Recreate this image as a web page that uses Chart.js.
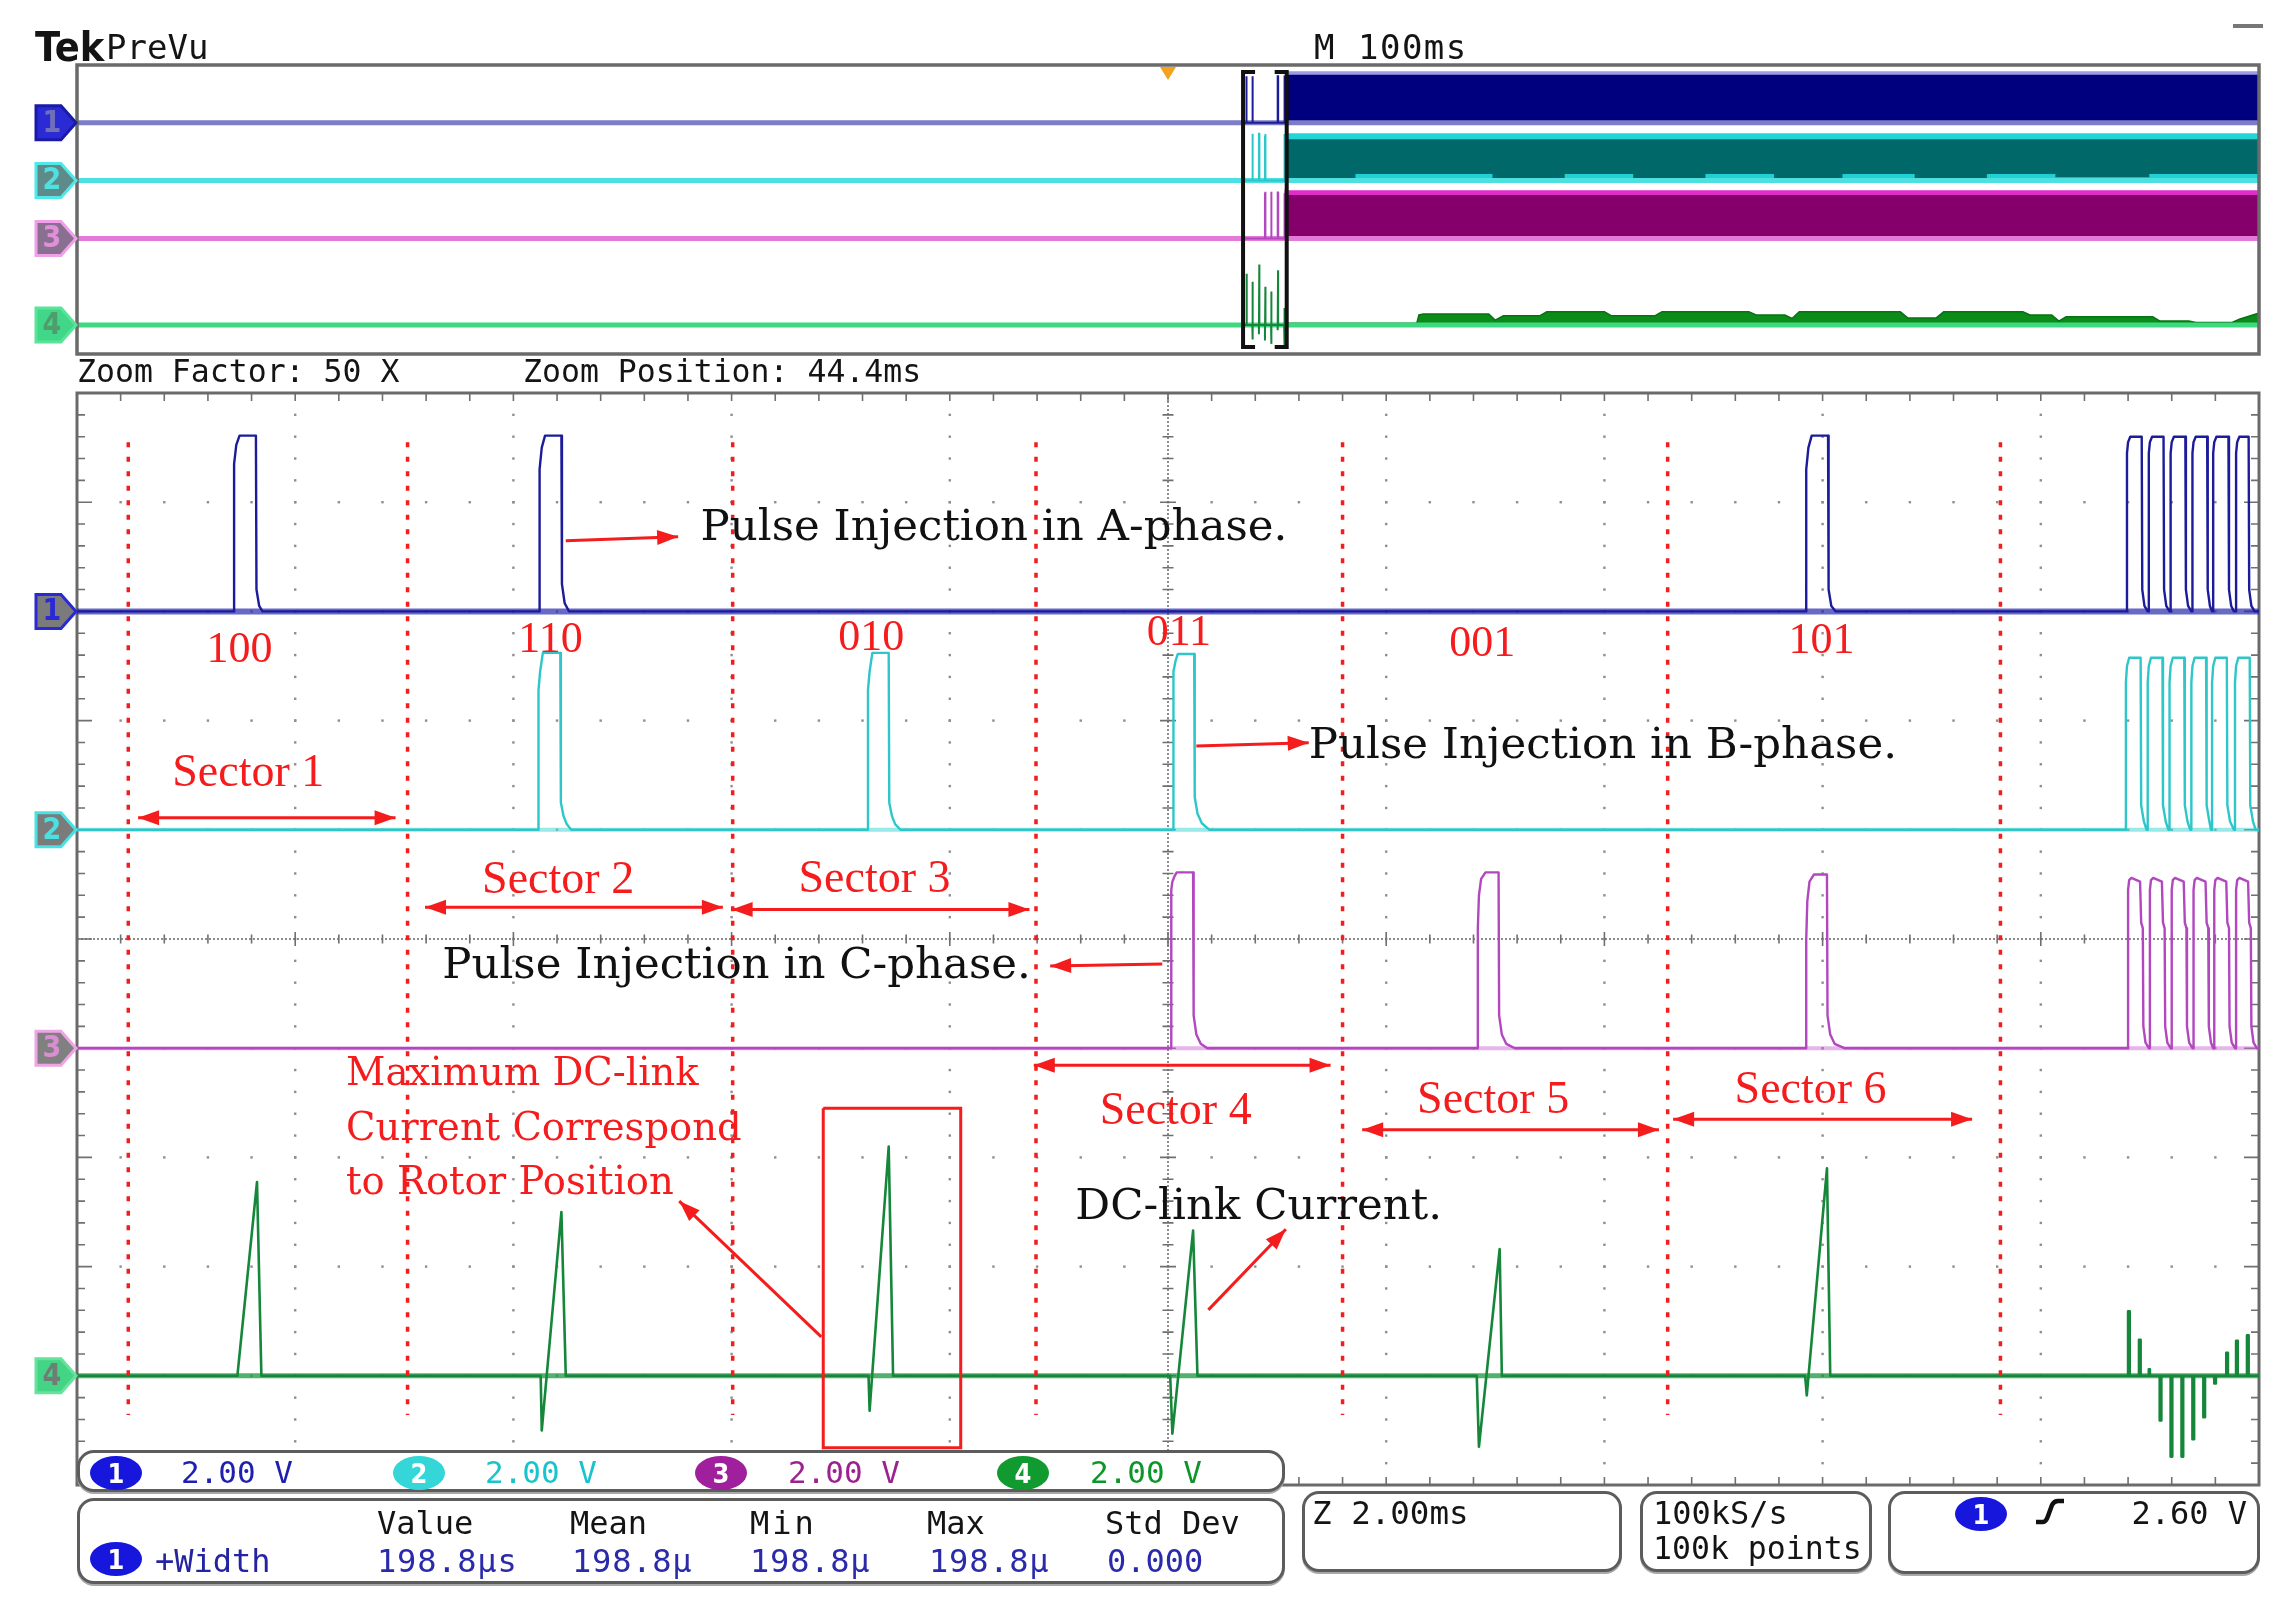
<!DOCTYPE html>
<html>
<head>
<meta charset="utf-8">
<title>Tek PreVu - pulse injection</title>
<script src="https://cdn.jsdelivr.net/npm/chart.js@4.4.1/dist/chart.umd.min.js"></script>
<style>
  html, body { margin: 0; padding: 0; background: #fff; }
  #page { position: relative; width: 2281px; height: 1609px; overflow: hidden; background: #fff;
          font-family: "DejaVu Sans Mono", monospace; color: #141414; }
  canvas { position: absolute; left: 0; }
  .t { position: absolute; white-space: nowrap; line-height: 1; }
  .box { position: absolute; box-sizing: border-box; border: 3px solid #5c5c5c; border-radius: 17px;
         background: #fff; box-shadow: 0 2px 0 #a8a8a8; }
  .num { position: absolute; width: 52px; height: 34px; border-radius: 50%; color: #fff;
         font-family: "DejaVu Sans Condensed", "DejaVu Sans", sans-serif; font-stretch: condensed;
         font-size: 27px; font-weight: bold; line-height: 35px; text-align: center; }
</style>
</head>
<body>
<div id="page">
  <canvas id="prev" width="2281" height="370" style="top:0"></canvas>
  <canvas id="main" width="2281" height="1249" style="top:360px"></canvas>

  <div class="t" style="left:35px;top:27px;font-size:41px;font-weight:bold;font-family:'DejaVu Sans Condensed','DejaVu Sans',sans-serif;font-stretch:condensed;">Tek</div>
  <div class="t" style="left:106px;top:30px;font-size:34px;">PreVu</div>
  <div class="t" style="left:1314px;top:30px;font-size:34px;letter-spacing:1.5px;">M 100ms</div>
  <div style="position:absolute;left:2233px;top:24px;width:30px;height:4px;background:#777;"></div>
  <div class="t" style="left:77px;top:356px;font-size:31.5px;">Zoom Factor: 50 X</div>
  <div class="t" style="left:523px;top:356px;font-size:31.5px;">Zoom Position: 44.4ms</div>

  <!-- channel scale readouts -->
  <div class="box" style="left:77px;top:1450px;width:1208px;height:42px;"></div>
  <div class="num" style="left:90px;top:1456px;background:#1616dc;">1</div>
  <div class="t" style="left:181px;top:1457px;font-size:31px;color:#2020b0;">2.00 V</div>
  <div class="num" style="left:393px;top:1456px;background:#34d6d8;">2</div>
  <div class="t" style="left:485px;top:1457px;font-size:31px;color:#18c4cc;">2.00 V</div>
  <div class="num" style="left:695px;top:1456px;background:#a01f9c;">3</div>
  <div class="t" style="left:788px;top:1457px;font-size:31px;color:#9c2290;">2.00 V</div>
  <div class="num" style="left:997px;top:1456px;background:#109a30;">4</div>
  <div class="t" style="left:1090px;top:1457px;font-size:31px;color:#0c962a;">2.00 V</div>

  <!-- measurement table -->
  <div class="box" style="left:77px;top:1498px;width:1208px;height:86px;"></div>
  <div class="t" style="left:377px;top:1507px;font-size:32px;">Value</div>
  <div class="t" style="left:570px;top:1507px;font-size:32px;">Mean</div>
  <div class="t" style="left:750px;top:1507px;font-size:32px;letter-spacing:3px;">Min</div>
  <div class="t" style="left:927px;top:1507px;font-size:32px;">Max</div>
  <div class="t" style="left:1105px;top:1507px;font-size:32px;">Std Dev</div>
  <div class="num" style="left:90px;top:1542px;background:#1616dc;">1</div>
  <div class="t" style="left:155px;top:1545px;font-size:32px;color:#2424a0;">+Width</div>
  <div class="t" style="left:377px;top:1545px;font-size:32px;letter-spacing:0.8px;color:#2a2aaa;">198.8µs</div>
  <div class="t" style="left:572px;top:1545px;font-size:32px;letter-spacing:0.8px;color:#2a2aaa;">198.8µ</div>
  <div class="t" style="left:750px;top:1545px;font-size:32px;letter-spacing:0.8px;color:#2a2aaa;">198.8µ</div>
  <div class="t" style="left:929px;top:1545px;font-size:32px;letter-spacing:0.8px;color:#2a2aaa;">198.8µ</div>
  <div class="t" style="left:1107px;top:1545px;font-size:32px;color:#2a2aaa;">0.000</div>

  <!-- timebase / acquisition / trigger -->
  <div class="box" style="left:1302px;top:1491px;width:320px;height:81px;"></div>
  <div class="t" style="left:1312px;top:1497px;font-size:32.5px;">Z 2.00ms</div>
  <div class="box" style="left:1640px;top:1491px;width:232px;height:81px;"></div>
  <div class="t" style="left:1653px;top:1497px;font-size:32px;">100kS/s</div>
  <div class="t" style="left:1653px;top:1533px;font-size:31.5px;">100k points</div>
  <div class="box" style="left:1888px;top:1491px;width:372px;height:83px;"></div>
  <div class="num" style="left:1955px;top:1497px;background:#1616dc;">1</div>
  <svg style="position:absolute;left:2034px;top:1498px" width="32" height="28">
    <path d="M2 24 L9 24 Q12 24 14 18 L18 7 Q20 3 24 3 L30 3" stroke="#111" stroke-width="4.5" fill="none" stroke-linejoin="round"/>
  </svg>
  <div class="t" style="right:34px;top:1497px;font-size:32px;">2.60 V</div>
</div>

<script>
// ── acquisition settings ──
const zoomPosition = 44.4;          // ms, centre of the zoom window
const zoomSpan = 20;                // 10 div x 2.00 ms
const zoomStart = zoomPosition - zoomSpan / 2;
const voltsPerDiv = 2;
const chOffset = [3, 1, -1, -4];    // ground markers, div from centre

// ── traces in the zoom window: [ms from window start, volts] ──
const ch1Trace = [
  [0,0],
  [1.44,0],[1.44,2.7],[1.46,3.05],[1.49,3.22],[1.64,3.22],[1.645,0.4],[1.67,0.1],[1.70,0],
  [4.24,0],[4.24,2.6],[4.26,3.0],[4.29,3.22],[4.44,3.22],[4.445,0.5],[4.47,0.15],[4.51,0],
  [15.85,0],[15.85,2.6],[15.87,3.0],[15.90,3.22],[16.05,3.22],[16.055,0.4],[16.08,0.1],[16.12,0],
  [18.79,0],[18.79,2.9],[18.80,3.1],[18.82,3.2],[18.925,3.2],[18.93,0.4],[18.95,0.1],[18.98,0],
  [18.99,0],[18.99,2.9],[19.00,3.1],[19.02,3.2],[19.125,3.2],[19.13,0.4],[19.15,0.1],[19.18,0],
  [19.19,0],[19.19,2.9],[19.20,3.1],[19.22,3.2],[19.325,3.2],[19.33,0.4],[19.35,0.1],[19.38,0],
  [19.39,0],[19.39,2.9],[19.40,3.1],[19.42,3.2],[19.525,3.2],[19.53,0.4],[19.55,0.1],[19.57,0],
  [19.58,0],[19.58,2.9],[19.59,3.1],[19.61,3.2],[19.72,3.2],[19.725,0.4],[19.745,0.1],[19.77,0],
  [19.79,0],[19.79,2.9],[19.80,3.1],[19.82,3.2],[19.905,3.2],[19.91,0.4],[19.93,0.1],[19.96,0],[20,0]
];
const ch2Trace = [
  [0,0],
  [4.23,0],[4.23,2.56],[4.245,2.9],[4.27,3.24],[4.43,3.24],[4.435,0.5],[4.46,0.25],[4.49,0.1],[4.53,0],
  [7.25,0],[7.25,2.56],[7.265,2.9],[7.29,3.24],[7.44,3.24],[7.445,0.5],[7.47,0.25],[7.50,0.1],[7.55,0],
  [10.05,0],[10.05,2.9],[10.07,3.1],[10.09,3.22],[10.24,3.22],[10.245,0.6],[10.27,0.3],[10.31,0.12],[10.38,0],
  [18.78,0],[18.78,2.7],[18.79,3.0],[18.81,3.15],[18.915,3.15],[18.92,0.45],[18.945,0.15],[18.97,0],
  [18.98,0],[18.98,2.7],[18.99,3.0],[19.01,3.15],[19.115,3.15],[19.12,0.45],[19.145,0.15],[19.17,0],
  [19.18,0],[19.18,2.7],[19.19,3.0],[19.21,3.15],[19.315,3.15],[19.32,0.45],[19.345,0.15],[19.37,0],
  [19.38,0],[19.38,2.7],[19.39,3.0],[19.41,3.15],[19.515,3.15],[19.52,0.45],[19.545,0.15],[19.56,0],
  [19.57,0],[19.57,2.7],[19.58,3.0],[19.60,3.15],[19.705,3.15],[19.71,0.45],[19.735,0.15],[19.77,0],
  [19.78,0],[19.78,2.7],[19.79,3.0],[19.81,3.15],[19.915,3.15],[19.92,0.45],[19.945,0.15],[19.97,0],[20,0]
];
const ch3Trace = [
  [0,0],
  [10.03,0],[10.03,2.9],[10.04,3.05],[10.06,3.15],[10.08,3.22],[10.23,3.22],[10.235,0.6],[10.26,0.25],[10.30,0.08],[10.36,0],
  [12.84,0],[12.84,2.2],[12.85,2.8],[12.87,3.1],[12.91,3.22],[13.03,3.22],[13.035,0.6],[13.06,0.25],[13.10,0.08],[13.18,0],
  [15.85,0],[15.85,2.0],[15.86,2.7],[15.88,3.05],[15.92,3.18],[16.04,3.18],[16.045,0.6],[16.07,0.25],[16.11,0.08],[16.20,0],
  [18.80,0],[18.80,2.9],[18.81,3.08],[18.83,3.12],[18.91,3.05],[18.92,2.3],[18.935,2.2],[18.94,0.4],[18.96,0.1],[18.99,0],
  [19.00,0],[19.00,2.9],[19.01,3.08],[19.03,3.12],[19.11,3.05],[19.12,2.3],[19.135,2.2],[19.14,0.4],[19.16,0.1],[19.19,0],
  [19.20,0],[19.20,2.9],[19.21,3.08],[19.23,3.12],[19.31,3.05],[19.32,2.3],[19.335,2.2],[19.34,0.4],[19.36,0.1],[19.39,0],
  [19.40,0],[19.40,2.9],[19.41,3.08],[19.43,3.12],[19.51,3.05],[19.52,2.3],[19.535,2.2],[19.54,0.4],[19.56,0.1],[19.58,0],
  [19.59,0],[19.59,2.9],[19.60,3.08],[19.62,3.12],[19.70,3.05],[19.71,2.3],[19.725,2.2],[19.73,0.4],[19.75,0.1],[19.78,0],
  [19.79,0],[19.79,2.9],[19.80,3.08],[19.82,3.12],[19.90,3.05],[19.91,2.3],[19.925,2.2],[19.93,0.4],[19.95,0.1],[19.98,0],[20,0]
];
const ch4Trace = [
  [0,0],
  [1.47,0],[1.65,3.55],[1.69,0],
  [4.25,0],[4.26,-1.0],[4.44,3.0],[4.48,0],
  [7.255,0],[7.265,-0.64],[7.44,4.2],[7.48,0],
  [10.02,0],[10.04,-1.06],[10.23,2.66],[10.27,0],
  [12.83,0],[12.85,-1.3],[13.04,2.32],[13.06,0],
  [15.84,0],[15.855,-0.36],[16.04,3.8],[16.07,0],
  [18.80,0],[18.80,1.18],[18.815,1.18],[18.815,0],
  [18.90,0],[18.90,0.66],[18.915,0.66],[18.915,0],
  [18.99,0],[18.99,0.12],[19.00,0.12],[19.00,0],
  [19.09,0],[19.09,-0.82],[19.105,-0.82],[19.105,0],
  [19.19,0],[19.19,-1.48],[19.205,-1.48],[19.205,0],
  [19.29,0],[19.29,-1.48],[19.305,-1.48],[19.305,0],
  [19.39,0],[19.39,-1.16],[19.405,-1.16],[19.405,0],
  [19.49,0],[19.49,-0.76],[19.505,-0.76],[19.505,0],
  [19.59,0],[19.59,-0.14],[19.605,-0.14],[19.605,0],
  [19.70,0],[19.70,0.42],[19.715,0.42],[19.715,0],
  [19.79,0],[19.79,0.64],[19.805,0.64],[19.805,0],
  [19.89,0],[19.89,0.74],[19.905,0.74],[19.905,0],
  [20,0]
];

// ── PreVu record after the zoom window (ms after trigger, volts) ──
const prevBandOuter = [3.56, 3.28, 3.34];      // ch1..ch3 envelope top
const prevBandCore = [3.32, 2.86, 3.0];        // dense core top
const prevCh2Strip = [
  [54.4,0.46],[85.9,0.18],[148.7,0.46],[181.8,0.18],[213.2,0.46],[246.3,0.18],[277.7,0.46],
  [309.1,0.18],[342.2,0.46],[375.3,0.18],[406.7,0.46],[449.7,0.24],[454.6,0.46],[500,0.46]
];
const prevCh4Env = [
  [54.4,0.12],[114,0.12],[115,0.70],[117,0.76],[147,0.76],[150,0.34],[153.7,0.64],[170.3,0.64],
  [173.6,0.92],[200,0.92],[203.3,0.64],[223.1,0.64],[226.4,0.92],[266.2,0.92],[269.5,0.70],
  [282.7,0.70],[286,0.46],[289.3,0.92],[335.6,0.92],[339,0.50],[352.1,0.50],[355.5,0.92],
  [391.8,0.92],[395,0.70],[405,0.70],[408.3,0.28],[411.6,0.58],[451.3,0.58],[454.6,0.28],
  [467.8,0.28],[471.1,0.18],[487.7,0.18],[491,0.40],[499.3,0.80],[500,0.80]
];

// ── annotations ──
const sectorBounds = [0.47, 3.03, 6.01, 8.79, 11.60, 14.58, 17.63];
const sectorNames = ['Sector 1', 'Sector 2', 'Sector 3', 'Sector 4', 'Sector 5', 'Sector 6'];
const sectorSpans = [[0.56, 2.92], [3.19, 5.92], [6.00, 8.73], [8.77, 11.49], [11.78, 14.50], [14.63, 17.37]];
const switchCodes = ['100', '110', '010', '011', '001', '101'];
const codeTimes = [1.49, 4.34, 7.28, 10.10, 12.88, 15.99];

// placement of the annotations, in axis units (ms, div)
const layout = {
  codeY: [2.54, 2.63, 2.65, 2.69, 2.59, 2.62],
  sectorLabelX: [1.57, 4.41, 7.31, 10.07, 12.98, 15.89],
  sectorLabelY: [1.40, 0.42, 0.43, -1.69, -1.59, -1.50],
  sectorArrowY: [1.11, 0.29, 0.27, -1.157, -1.746, -1.65],
  dotsTop: 4.55, dotsBottom: -4.36,
  box: [6.84, 8.10, -1.55, -4.66],
  captions: [
    { text: 'Pulse Injection in A-phase.', t: 5.715, y: 3.658 },
    { text: 'Pulse Injection in B-phase.', t: 11.29, y: 1.662 },
    { text: 'Pulse Injection in C-phase.', t: 3.347, y: -0.353 },
    { text: 'DC-link Current.', t: 9.15, y: -2.56 }
  ],
  maxNote: { lines: ['Maximum DC-link', 'Current Correspond', 'to Rotor Position'], t: 2.466, y: [-1.339, -1.84, -2.338] },
  pointers: [
    [4.48, 3.647, 5.51, 3.684],
    [10.26, 1.767, 11.29, 1.798],
    [9.947, -0.229, 8.92, -0.247],
    [6.822, -3.644, 5.52, -2.40],
    [10.37, -3.396, 11.08, -2.658]
  ]
};

const RED = '#f41c1c';
const traceColor = ['#1c1c9a', '#2ec6c8', '#b247bf', '#15863a'];
const haloColor = ['rgba(40,40,175,0.7)', 'rgba(70,215,215,0.55)', 'rgba(205,110,215,0.5)', 'rgba(25,150,60,0.75)'];
const markerStyle = [
  { fill: '#7b7b7b', edge: '#2a2ad4', text: '#2a2ad4' },
  { fill: '#7b7b7b', edge: '#48e2e2', text: '#48e2e2' },
  { fill: '#808080', edge: '#f0a4e6', text: '#d88ed0' },
  { fill: '#44d486', edge: '#66e29c', text: '#6e7e74' }
];
const prevMarkerStyle = [
  { fill: '#2b2bd6', edge: '#1a1aa8', text: '#7070b8' },
  { fill: '#5f8a8a', edge: '#50e8e8', text: '#50e0e0' },
  { fill: '#8a7090', edge: '#f0a0e8', text: '#e090d8' },
  { fill: '#40d888', edge: '#5ae49a', text: '#4f9c6c' }
];

const traces = [ch1Trace, ch2Trace, ch3Trace, ch4Trace];
const toPts = (trace, off, dt = 0) => trace.map(([t, v]) => ({ x: t + dt, y: off + v / voltsPerDiv }));

function arrowHead(ctx, x0, y0, x1, y1) {
  const a = Math.atan2(y1 - y0, x1 - x0), L = 21, W = 7.5;
  ctx.beginPath();
  ctx.moveTo(x1, y1);
  ctx.lineTo(x1 - L * Math.cos(a) + W * Math.sin(a), y1 - L * Math.sin(a) - W * Math.cos(a));
  ctx.lineTo(x1 - L * Math.cos(a) - W * Math.sin(a), y1 - L * Math.sin(a) + W * Math.cos(a));
  ctx.closePath();
  ctx.fill();
}
function arrow(ctx, x0, y0, x1, y1, both) {
  ctx.beginPath(); ctx.moveTo(x0, y0); ctx.lineTo(x1, y1); ctx.stroke();
  arrowHead(ctx, x0, y0, x1, y1);
  if (both) arrowHead(ctx, x1, y1, x0, y0);
}
function drawMarker(ctx, tip, yp, n, st) {
  ctx.beginPath();
  ctx.moveTo(tip - 40, yp - 17); ctx.lineTo(tip - 15, yp - 17); ctx.lineTo(tip, yp);
  ctx.lineTo(tip - 15, yp + 17); ctx.lineTo(tip - 40, yp + 17); ctx.closePath();
  ctx.fillStyle = st.fill; ctx.fill();
  ctx.lineWidth = 3; ctx.strokeStyle = st.edge; ctx.stroke();
  ctx.fillStyle = st.text;
  ctx.font = 'bold 30px "DejaVu Sans Condensed", "DejaVu Sans"';
  ctx.textAlign = 'center'; ctx.textBaseline = 'middle';
  ctx.fillText(n, tip - 24, yp + 1);
}

// ══ zoom window graticule ══
const graticule = {
  id: 'graticule',
  beforeDatasetsDraw(chart) {
    const { ctx, chartArea: a, scales: { x, y } } = chart;
    const X = t => x.getPixelForValue(t), Y = v => y.getPixelForValue(v);
    ctx.save();
    ctx.fillStyle = '#8e8e8e';
    for (let i = 1; i < 10; i++) {
      if (i === 5) continue;
      for (let k = 1; k < 50; k++) ctx.fillRect(X(i * 2) - 1.2, Y(-5 + k * 0.2) - 1.2, 2.4, 2.4);
      for (let k = 1; k < 50; k++) ctx.fillRect(X(k * 0.4) - 1.2, Y(-5 + i) - 1.2, 2.4, 2.4);
    }
    const cx = X(10), cy = Y(0);
    ctx.fillStyle = '#707070';
    for (let p = a.left; p < a.right; p += 4) ctx.fillRect(p, cy - 0.8, 2, 1.6);
    for (let p = a.top; p < a.bottom; p += 4) ctx.fillRect(cx - 0.8, p, 1.6, 2);
    ctx.strokeStyle = '#707070'; ctx.lineWidth = 1.6;
    ctx.beginPath();
    for (let k = 1; k < 50; k++) {
      const px = X(k * 0.4), py = Y(-5 + k * 0.2);
      const lx = k % 5 === 0 ? 7 : 4.5;
      ctx.moveTo(px, cy - lx); ctx.lineTo(px, cy + lx);
      ctx.moveTo(cx - lx - 1, py); ctx.lineTo(cx + lx + 1, py);
      ctx.moveTo(px, a.top); ctx.lineTo(px, a.top + 8);
      ctx.moveTo(px, a.bottom); ctx.lineTo(px, a.bottom - 8);
      ctx.moveTo(a.left, py); ctx.lineTo(a.left + (k % 5 === 0 ? 15 : 8), py);
      ctx.moveTo(a.right, py); ctx.lineTo(a.right - (k % 5 === 0 ? 15 : 8), py);
    }
    ctx.stroke();
    ctx.lineWidth = 3; ctx.strokeStyle = '#6a6a6a';
    ctx.strokeRect(a.left, a.top, a.right - a.left, a.bottom - a.top);
    ctx.restore();
  }
};

const annotations = {
  id: 'annotations',
  afterDatasetsDraw(chart) {
    const { ctx, chartArea: a, scales: { x, y } } = chart;
    const X = t => x.getPixelForValue(t), Y = v => y.getPixelForValue(v);
    ctx.save();
    ctx.fillStyle = RED; ctx.strokeStyle = RED; ctx.lineWidth = 3;
    sectorSpans.forEach(([t0, t1], i) => arrow(ctx, X(t0), Y(layout.sectorArrowY[i]), X(t1), Y(layout.sectorArrowY[i]), true));
    layout.pointers.forEach(p => arrow(ctx, X(p[0]), Y(p[1]), X(p[2]), Y(p[3]), false));
    ctx.textBaseline = 'alphabetic';
    ctx.textAlign = 'center';
    ctx.font = '44px "Liberation Serif"';
    switchCodes.forEach((c, i) => ctx.fillText(c, X(codeTimes[i]), Y(layout.codeY[i])));
    ctx.font = '46px "Liberation Serif"';
    sectorNames.forEach((s, i) => ctx.fillText(s, X(layout.sectorLabelX[i]), Y(layout.sectorLabelY[i])));
    ctx.textAlign = 'left';
    ctx.font = '38.5px "DejaVu Serif"';
    layout.maxNote.lines.forEach((s, i) => ctx.fillText(s, X(layout.maxNote.t), Y(layout.maxNote.y[i])));
    ctx.fillStyle = '#111';
    ctx.font = '43.5px "DejaVu Serif"';
    layout.captions.forEach(c => ctx.fillText(c.text, X(c.t), Y(c.y)));
    ctx.restore();
    ctx.save();
    chOffset.forEach((off, i) => drawMarker(ctx, a.left - 1, Y(off), String(i + 1), markerStyle[i]));
    ctx.restore();
  }
};

// ── zoom window datasets ──
const mainSets = [];
sectorBounds.forEach(t => mainSets.push({
  data: [{ x: t, y: layout.dotsTop }, { x: t, y: layout.dotsBottom }],
  borderColor: RED, borderWidth: 3.5, borderDash: [5, 9.5], order: 0
}));
const [b0, b1, bTop, bBot] = layout.box;
mainSets.push({
  data: [{ x: b0, y: bTop }, { x: b1, y: bTop }, { x: b1, y: bBot }, { x: b0, y: bBot }, { x: b0, y: bTop }],
  borderColor: RED, borderWidth: 3, order: 0
});
traces.forEach((tr, i) => {
  mainSets.push({ data: toPts(tr, chOffset[i]), borderColor: traceColor[i], borderWidth: i === 3 ? 2.6 : 2.4,
                  borderJoinStyle: 'round', order: 1 + i });
  mainSets.push({ data: toPts([[0, 0], [zoomSpan, 0]], chOffset[i]), borderColor: haloColor[i],
                  borderWidth: i === 0 ? 6 : (i === 3 ? 5 : 4), order: 10 + i });
});
mainSets.forEach(d => { d.showLine = true; d.pointRadius = 0; d.fill = d.fill || false; d.tension = 0; });

new Chart(document.getElementById('main'), {
  type: 'scatter',
  data: { datasets: mainSets },
  options: {
    responsive: false, animation: false, devicePixelRatio: 1,
    layout: { padding: { left: 77, right: 22, top: 33, bottom: 124 } },
    scales: {
      x: { type: 'linear', min: 0, max: zoomSpan, display: false },
      y: { type: 'linear', min: -5, max: 5, display: false }
    },
    plugins: { legend: { display: false }, tooltip: { enabled: false } }
  },
  plugins: [graticule, annotations]
});

// ══ PreVu record ══
const prevFrame = {
  id: 'prevFrame',
  afterDatasetsDraw(chart) {
    const { ctx, chartArea: a, scales: { x, y } } = chart;
    ctx.save();
    ctx.lineWidth = 3.5; ctx.strokeStyle = '#6a6a6a';
    ctx.strokeRect(a.left, a.top, a.right - a.left, a.bottom - a.top);
    const x0 = x.getPixelForValue(zoomStart), x1 = x.getPixelForValue(zoomStart + zoomSpan);
    const top = a.top + 7, bot = a.bottom - 7;
    ctx.strokeStyle = '#111'; ctx.lineWidth = 4;
    ctx.beginPath();
    ctx.moveTo(x0 + 12, top); ctx.lineTo(x0, top); ctx.lineTo(x0, bot); ctx.lineTo(x0 + 12, bot);
    ctx.moveTo(x1 - 12, top); ctx.lineTo(x1, top); ctx.lineTo(x1, bot); ctx.lineTo(x1 - 12, bot);
    ctx.stroke();
    const tx = x.getPixelForValue(0);
    ctx.fillStyle = '#f5a21e';
    ctx.beginPath(); ctx.moveTo(tx - 8, a.top + 2); ctx.lineTo(tx + 8, a.top + 2); ctx.lineTo(tx, a.top + 15);
    ctx.closePath(); ctx.fill();
    chOffset.forEach((off, i) => drawMarker(ctx, a.left - 1, y.getPixelForValue(off), String(i + 1), prevMarkerStyle[i]));
    ctx.restore();
  }
};

const after = zoomStart + zoomSpan;
const flat = (v, off) => [{ x: after, y: off + v / voltsPerDiv }, { x: 500, y: off + v / voltsPerDiv }];
const prevOuterColor = ['#9c9ce4', '#22d6d8', '#e02cc8'];
const prevCoreColor = ['#00007e', '#006868', '#86006c'];
const prevSets = [];
[0, 1, 2].forEach(i => {
  prevSets.push({ data: flat(prevBandOuter[i], chOffset[i]), backgroundColor: prevOuterColor[i],
                  fill: { value: chOffset[i] }, borderWidth: 0, order: 30 + i });
  prevSets.push({ data: flat(prevBandCore[i], chOffset[i]), backgroundColor: prevCoreColor[i],
                  fill: { value: chOffset[i] }, borderWidth: 0, order: 25 + i });
});
prevSets.push({ data: toPts(prevCh2Strip, chOffset[1]), stepped: 'after', backgroundColor: '#20d0d2',
                fill: { value: chOffset[1] }, borderWidth: 0, order: 24 });
prevSets.push({ data: toPts(prevCh4Env, chOffset[3]), backgroundColor: '#0b8c18', borderColor: '#077212',
                borderWidth: 1.5, fill: { value: chOffset[3] }, order: 24 });
const prevHalo = ['#7c7cc8', '#4ce0e0', '#e47ad8', '#3ed880'];
traces.forEach((tr, i) => {
  prevSets.push({ data: toPts([[-500, 0], [500, 0]], chOffset[i]), borderColor: prevHalo[i], borderWidth: 5, order: 12 + i });
  prevSets.push({ data: toPts(tr, chOffset[i], zoomStart), borderColor: traceColor[i], borderWidth: 2, order: 2 + i });
});
prevSets.forEach(d => { d.showLine = true; d.pointRadius = 0; d.tension = 0; if (!d.fill) d.fill = false; });

new Chart(document.getElementById('prev'), {
  type: 'scatter',
  data: { datasets: prevSets },
  options: {
    responsive: false, animation: false, devicePixelRatio: 1,
    layout: { padding: { left: 77, right: 22, top: 65, bottom: 16 } },
    scales: {
      x: { type: 'linear', min: -500, max: 500, display: false },
      y: { type: 'linear', min: -5, max: 5, display: false }
    },
    plugins: { legend: { display: false }, tooltip: { enabled: false } }
  },
  plugins: [prevFrame]
});
</script>
</body>
</html>
